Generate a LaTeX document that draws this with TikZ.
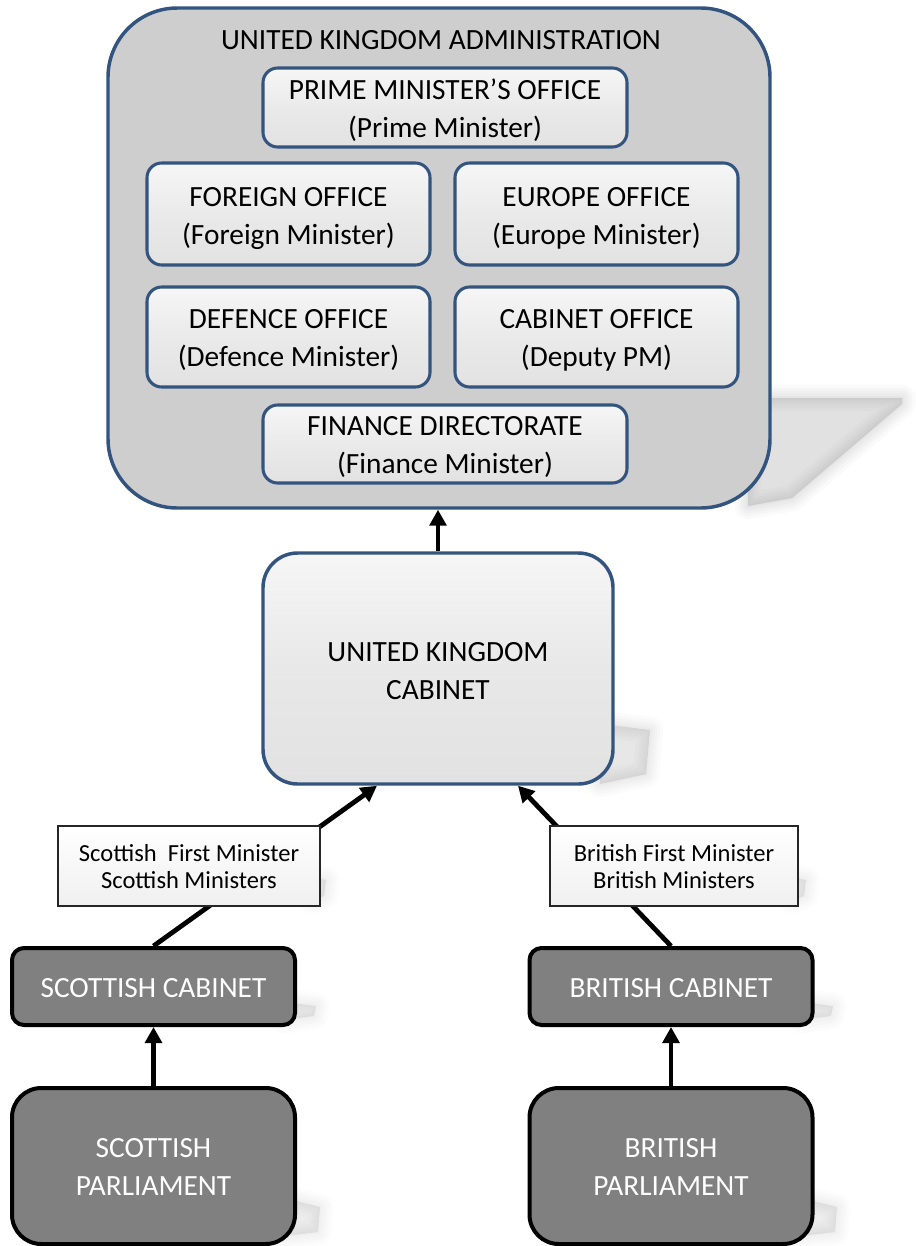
\documentclass[tikz,border=0pt]{standalone}
\usepackage{fontspec}
\setmainfont{Carlito}
\usetikzlibrary{arrows.meta,calc}
\definecolor{bdr}{RGB}{50,84,126}
\definecolor{admfill}{RGB}{206,206,206}
\definecolor{offtop}{RGB}{246,246,246}
\definecolor{offbot}{RGB}{226,226,226}
\definecolor{darkfill}{RGB}{128,128,128}
\newcommand\softpoly[2]{\foreach \w in {20,15,11,7,3,0.1}{\filldraw[black,opacity=#1,line width=\w pt,line join=round] #2;}}
\begin{document}
\begin{tikzpicture}[x=0.75pt,y=-0.75pt,
  bigfont/.style={font=\fontsize{22}{28}\selectfont},
  admbox/.style={draw=bdr,line width=2.6pt,rounded corners=52pt,fill=admfill,
    minimum width=496.5pt,minimum height=375pt,inner sep=0pt},
  office/.style={draw=bdr,line width=2.3pt,rounded corners=11pt,top color=offtop,
    bottom color=offbot,middle color=offbot!60!offtop,align=center,inner sep=0pt,bigfont,
    text depth=0pt},
  ukbox/.style={draw=bdr,line width=2.6pt,rounded corners=26pt,top color=offtop,
    bottom color=offbot,middle color=offbot!70!offtop,align=center,inner sep=0pt,bigfont,
    minimum width=262.5pt,minimum height=173.25pt,text height=45.75pt,text depth=0pt},
  darkbox/.style={draw=black,line width=3pt,fill=darkfill,text=white,align=center,
    inner sep=0pt,bigfont,minimum width=212.25pt,text depth=0pt},
  labelbox/.style={draw=black!85,line width=1.2pt,top color=white,bottom color=black!6,
    align=center,inner sep=0pt,font=\fontsize{18.4}{20.4}\selectfont,minimum height=60pt,
    text height=33.75pt,text depth=0pt},
  conn/.style={line width=3.6pt,-{Triangle[length=12pt,width=12.5pt]}}
]
\useasboundingbox (0,0) rectangle (915,1246);
% soft shadows
\softpoly{0.02}{(748,398) -- (902,398) -- (902,404) -- (792,498) -- (748,506) -- cycle}
\softpoly{0.014}{(600,724) -- (650,730) -- (646,774) -- (600,784) -- cycle}
\softpoly{0.012}{(312,877) -- (326,880) -- (324,896) -- (312,900) -- cycle}
\softpoly{0.012}{(792,877) -- (806,880) -- (804,896) -- (792,900) -- cycle}
\softpoly{0.012}{(285,1002) -- (316,1006) -- (314,1016) -- (285,1020) -- cycle}
\softpoly{0.012}{(802,1002) -- (833,1006) -- (831,1016) -- (802,1020) -- cycle}
\softpoly{0.012}{(285,1198) -- (320,1207) -- (318,1232) -- (285,1236) -- cycle}
\softpoly{0.012}{(802,1198) -- (837,1207) -- (835,1232) -- (802,1236) -- cycle}

% administration
\node[admbox] (admin) at (439,258) {};
\node[bigfont] (title) at (441,40) {UNITED KINGDOM ADMINISTRATION};
\node[office,minimum width=273pt,minimum height=59.25pt,text height=44.25pt] (pm) at (445,107.5)
  {PRIME MINISTER’S OFFICE\\(Prime Minister)};
\node[office,minimum width=212.25pt,minimum height=76.5pt,text height=45pt] (foreign) at (288.5,214)
  {FOREIGN OFFICE\\(Foreign Minister)};
\node[office,minimum width=212.25pt,minimum height=76.5pt,text height=45pt] (europe) at (596.5,214)
  {EUROPE OFFICE\\(Europe Minister)};
\node[office,minimum width=212.25pt,minimum height=75pt,text height=43.5pt] (defence) at (288.5,337)
  {DEFENCE OFFICE\\(Defence Minister)};
\node[office,minimum width=212.25pt,minimum height=75pt,text height=43.5pt] (cabinetoff) at (596.5,337)
  {CABINET OFFICE\\(Deputy PM)};
\node[office,minimum width=273pt,minimum height=58.5pt,text height=43.5pt] (finance) at (445,444)
  {FINANCE DIRECTORATE\\(Finance Minister)};

% UK cabinet
\node[ukbox] (ukcab) at (438,668.5) {UNITED KINGDOM\\CABINET};

% lower boxes
\node[darkbox,rounded corners=9pt,minimum height=57.75pt,text height=16.5pt] (scotcab) at (153.5,986.5) {SCOTTISH CABINET};
\node[darkbox,rounded corners=9pt,minimum height=57.75pt,text height=16.5pt] (britcab) at (671,986.5) {BRITISH CABINET};
\node[darkbox,rounded corners=22pt,minimum height=117pt,text height=43.5pt] (scotparl) at (153.5,1166) {SCOTTISH\\PARLIAMENT};
\node[darkbox,rounded corners=22pt,minimum height=117pt,text height=43.5pt] (britparl) at (671,1166) {BRITISH\\PARLIAMENT};

% connectors
\draw[conn] (ukcab.north) -- (ukcab.north |- admin.south);
\draw[conn] (scotcab.north) -- ($(ukcab.south)+(-61,0)$);
\draw[conn] (britcab.north) -- ($(ukcab.south)+(80,0)$);
\draw[conn] (scotparl.north) -- (scotcab.south);
\draw[conn] (britparl.north) -- (britcab.south);

% label boxes
\node[labelbox,minimum width=196.5pt] (scotlab) at (189,866)
  {Scottish\ \ First Minister\\Scottish Ministers};
\node[labelbox,minimum width=186pt] (britlab) at (674,866)
  {British First Minister\\British Ministers};
\end{tikzpicture}
\end{document}
